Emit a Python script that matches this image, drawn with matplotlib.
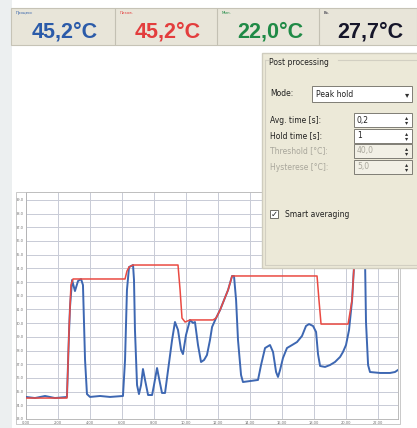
import matplotlib
matplotlib.use("Agg")
import matplotlib.pyplot as plt
from matplotlib.patches import Rectangle
import numpy as np

# Messwerte: Zeit [s] und Temperatur [°C]
t_ist = [0, 0.56, 1.19, 1.81, 2.56, 2.69, 2.75, 2.88, 3.06, 3.25,
         3.44, 3.56, 3.69, 3.81, 4.0, 4.63, 5.25, 6.06, 6.19, 6.31,
         6.44, 6.69, 6.75, 6.81, 6.94, 7.06, 7.19, 7.31, 7.44, 7.63,
         7.88, 8.0, 8.19, 8.31, 8.5, 8.69, 8.88, 9.13, 9.31, 9.5,
         9.69, 9.81, 10.0, 10.25, 10.44, 10.56, 10.75, 10.94, 11.13, 11.31,
         11.5, 11.63, 11.88, 12.13, 12.38, 12.63, 12.88, 13.0, 13.13, 13.25,
         13.44, 13.56, 14.0, 14.5, 14.69, 14.94, 15.25, 15.44, 15.63, 15.75,
         15.88, 16.06, 16.31, 16.63, 16.94, 17.25, 17.5, 17.69, 17.94, 18.13,
         18.25, 18.38, 18.69, 19.0, 19.31, 19.63, 19.81, 20.0, 20.19, 20.38,
         20.56, 20.75, 21.0, 21.19, 21.25, 21.38, 21.5, 22.13, 22.75, 23.06,
         23.25]
T_ist = [24.61, 24.53, 24.68, 24.53, 24.61, 29.35, 31.18, 33.15, 32.34, 33.07,
         33.22, 32.78, 27.31, 24.82, 24.61, 24.68, 24.61, 24.68, 27.31, 32.42,
         34.09, 34.24, 33.15, 29.50, 25.48, 24.82, 25.48, 26.65, 25.85, 24.75,
         24.75, 25.48, 26.72, 25.99, 24.90, 24.90, 26.58, 28.77, 30.08, 29.50,
         28.04, 27.74, 29.13, 30.23, 30.01, 30.08, 28.40, 27.16, 27.31, 27.67,
         28.77, 29.72, 30.37, 30.96, 31.69, 32.42, 33.44, 33.44, 31.69, 28.77,
         26.21, 25.70, 25.77, 25.85, 26.94, 28.18, 28.40, 27.89, 26.43, 26.07,
         26.58, 27.45, 28.18, 28.40, 28.62, 29.06, 29.79, 29.93, 29.79, 29.35,
         27.74, 26.87, 26.80, 26.94, 27.16, 27.53, 27.89, 28.40, 29.50, 31.69,
         35.34, 37.53, 37.67, 34.61, 30.08, 26.94, 26.43, 26.36, 26.36, 26.43,
         26.58]

# Peak hold Kurve
t_peak = [0, 2.56, 2.69, 2.81, 2.94, 6.19, 6.31, 6.44, 6.69, 9.5,
          9.63, 9.75, 9.94, 10.25, 11.69, 11.88, 12.13, 12.38, 12.63, 12.88,
          18.19, 18.31, 18.44, 20.13, 20.38, 20.56, 20.75, 21.0, 23.25]
T_peak = [24.53, 24.53, 29.50, 32.78, 33.22, 33.22, 33.80, 34.09, 34.24, 34.24,
          32.42, 30.37, 30.08, 30.23, 30.23, 30.37, 30.96, 31.69, 32.42, 33.44,
          33.44, 31.69, 29.93, 29.93, 31.69, 35.34, 37.53, 37.67, 37.67]

x_ticks = np.arange(0, 23, 2)
y_ticks = np.arange(23, 40, 1)

# Anzeigefelder oben
anz_titel = ["Процесс", "Пиков.", "Мин.", "Вх."]
anz_werte = ["45,2°C", "45,2°C", "22,0°C", "27,7°C"]
anz_farben = ["#2b5ba9", "#e33d3d", "#1f8a46", "#16162a"]

W, H = 417, 428
fig = plt.figure(figsize=(W / 100, H / 100), dpi=100)
fig.patch.set_facecolor("white")

# Diagramm
ax = fig.add_axes([26 / W, 1 - 419 / H, (398 - 26) / W, (419 - 192) / H], zorder=1)
ax.plot(t_ist, T_ist, color="#3d67b2", lw=1.4, zorder=3, solid_joinstyle="round")
ax.plot(t_peak, T_peak, color="#ea4a42", lw=1.1, zorder=4, solid_joinstyle="round")
ax.set_xlim(0, 23.25)
ax.set_ylim(23, 39.57)
ax.set_xticks(x_ticks)
ax.set_xticklabels(["%.2f" % v for v in x_ticks])
ax.set_yticks(y_ticks)
ax.set_yticklabels(["%.1f" % v for v in y_ticks])
ax.tick_params(length=0, labelsize=2.6, colors="#707070", pad=1.5)
ax.grid(True, color="#c8cbd6", lw=0.7)
for s in ax.spines.values():
    s.set_color("#b0b0b0")
    s.set_linewidth(0.6)

# Oberflaeche in Pixelkoordinaten
ui = fig.add_axes([0, 0, 1, 1], zorder=2)
ui.set_xlim(0, W)
ui.set_ylim(H, 0)
ui.axis("off")
ui.patch.set_visible(False)

ui.add_patch(Rectangle((0, 0), 12, H, facecolor="#eceff0", edgecolor="none"))
# Rahmen um das Diagramm
ui.add_patch(Rectangle((16, 192), 384, 232, facecolor="none", edgecolor="#c0c0c0", lw=0.6))

# Anzeigeleiste
ui.add_patch(Rectangle((11, 8), 406, 37, facecolor="#e8e5d9", edgecolor="#c6c3b6", lw=0.8))
grenzen = [11, 115, 217, 319, 417]
for i in range(4):
    x0, x1 = grenzen[i], grenzen[i + 1]
    if i > 0:
        ui.plot([x0, x0], [9, 44], color="#c3c0b3", lw=0.8)
    ui.text(x0 + 5, 13, anz_titel[i], fontsize=2.8, color=anz_farben[i], va="center")
    ui.text((x0 + x1) / 2 + 2, 32, anz_werte[i], fontsize=15.5, color=anz_farben[i],
            ha="center", va="center", family="Liberation Sans", weight="bold")

# Post processing Fenster
grau = "#a8a69b"
ui.add_patch(Rectangle((262, 53), 160, 215, facecolor="#ece9d8", edgecolor="#cfccbe", lw=1.0))
ui.plot([265, 265, 420], [60, 265, 265], color="#d2cfc2", lw=0.8)
ui.plot([265, 268], [60, 60], color="#d2cfc2", lw=0.8)
ui.plot([338, 420], [60, 60], color="#d2cfc2", lw=0.8)
fs = 5.5
ui.text(269, 62, "Post processing", fontsize=fs, va="center", color="#202020")
ui.text(270, 93, "Mode:", fontsize=fs, va="center", color="#202020")
ui.add_patch(Rectangle((312, 86), 100, 16, facecolor="white", edgecolor="#7f7d75", lw=0.7))
ui.text(316, 94, "Peak hold", fontsize=fs, va="center", color="#202020")
ui.text(407, 94.5, "▾", fontsize=6, va="center", ha="center", color="#303030")

zeilen = [("Avg. time [s]:", "0,2", 120, True),
          ("Hold time [s]:", "1", 136, True),
          ("Threshold [°C]:", "40,0", 151, False),
          ("Hysterese [°C]:", "5,0", 167, False)]
for text, wert, y, aktiv in zeilen:
    c = "#202020" if aktiv else grau
    ui.text(270, y, text, fontsize=fs, va="center", color=c)
    ui.add_patch(Rectangle((354, y - 7), 58, 14, facecolor="white" if aktiv else "#f2f0e6",
                           edgecolor="#7f7d75", lw=0.7))
    ui.text(357, y, wert, fontsize=fs, va="center", color=c)
    ui.text(407, y - 2, "▴", fontsize=4.5, va="center", ha="center", color="#303030")
    ui.text(407, y + 2.5, "▾", fontsize=4.5, va="center", ha="center", color="#303030")

ui.add_patch(Rectangle((270, 210), 8, 8, facecolor="white", edgecolor="#6f6d66", lw=0.7))
ui.text(274, 214, "✓", fontsize=6, va="center", ha="center", color="#202020")
ui.text(285, 214, "Smart averaging", fontsize=fs, va="center", color="#202020")

fig.savefig("out.png", dpi=100)
